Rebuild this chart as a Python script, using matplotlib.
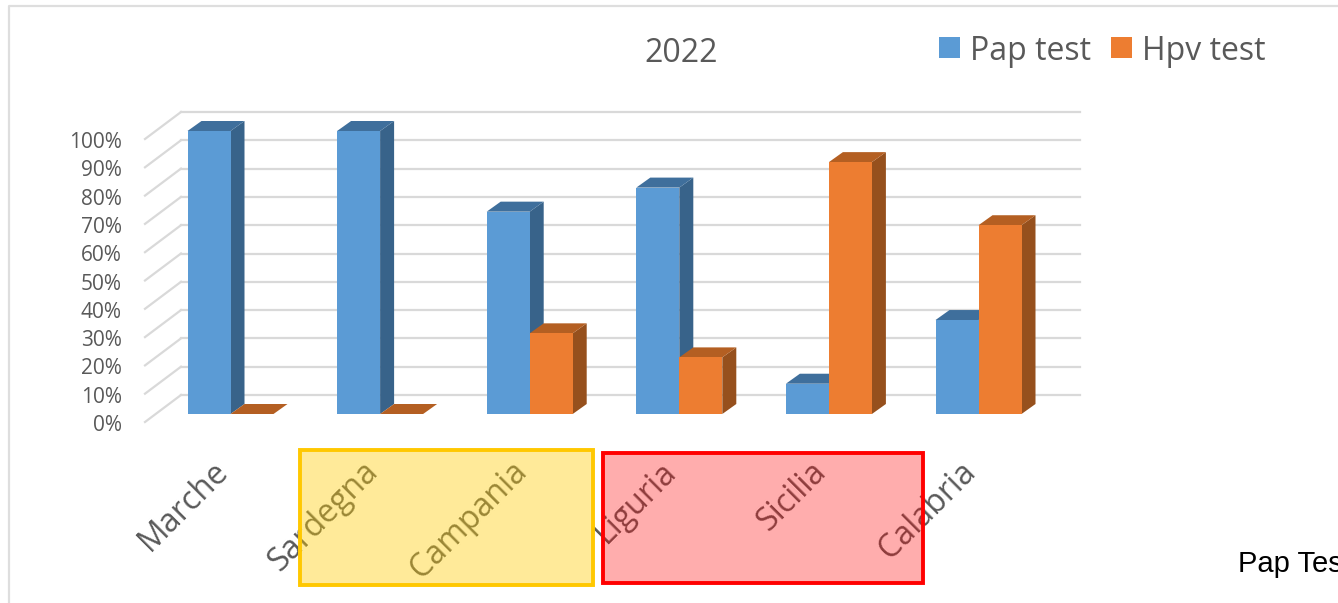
import matplotlib.pyplot as plt
from matplotlib.patches import Polygon, Rectangle

regioni = ['Marche', 'Sardegna', 'Campania', 'Liguria', 'Sicilia', 'Calabria']
pap_test = [100, 100, 71.5, 80, 10.7, 33.2]
hpv_test = [0, 0, 28.5, 20, 89, 66.7]
tick_perc = [0, 10, 20, 30, 40, 50, 60, 70, 80, 90, 100]
serie = ['Pap test', 'Hpv test']
titolo = '2022'

W, H = 1338, 603
GRIGIO = '#595959'
GRIGLIA = '#d9d9d9'

# scala: posizione categoria e percentuale -> pixel del riferimento
X0, PASSO = 230.5, 149.6
Y0, PX_PERC = 414.0, 2.83


def dx(px):
    return px / PASSO


def dy(px):
    return px / PX_PERC


def fx(px):
    return (px - X0) / PASSO


def fy(py):
    return (Y0 - py) / PX_PERC


fig = plt.figure(figsize=(W / 100, H / 100), dpi=100)
ax = fig.add_axes([0, 0, 1, 1])
ax.set_xlim(fx(0), fx(W))
ax.set_ylim(fy(H), fy(0))
ax.axis('off')
plt.rcParams['font.family'] = ['Open Sans', 'DejaVu Sans']

# cornice del grafico
ax.plot([fx(9), fx(9), fx(W)], [fy(H), fy(5.5), fy(5.5)], color='#dedede', lw=1.6, zorder=1)

# griglia: parete di fondo e parete sinistra
off_y = dy(19)
for t in tick_perc:
    ax.plot([fx(181), fx(1080)], [t + off_y, t + off_y], color=GRIGLIA, lw=1.6, zorder=1)
    ax.plot([fx(145), fx(181)], [t - dy(8), t + off_y], color=GRIGLIA, lw=1.6, zorder=1)
    ax.text(fx(122), t - dy(11.5), f'{t}%', ha='right', va='center', fontsize=15, color=GRIGIO, zorder=2)

larg = dx(43)
prof_x = dx(14)
prof_y = dy(10)
colori = [('#5b9bd5', '#3f6f9c', '#38638a'), ('#ed7d31', '#b45f22', '#96501d')]

for i, (pap, hpv) in enumerate(zip(pap_test, hpv_test)):
    for x, val, (col, top, lato) in zip([i - larg, i], [pap, hpv], colori):
        ax.add_patch(Polygon([(x + larg, 0), (x + larg + prof_x, prof_y),
                              (x + larg + prof_x, val + prof_y), (x + larg, val)],
                             facecolor=lato, edgecolor='none', zorder=3 + i))
        ax.add_patch(Polygon([(x, val), (x + prof_x, val + prof_y),
                              (x + larg + prof_x, val + prof_y), (x + larg, val)],
                             facecolor=top, edgecolor='none', zorder=3 + i))
        ax.bar(x, val, width=larg, align='edge', color=col, zorder=3 + i)

# etichette delle categorie
for i, nome in enumerate(regioni):
    ax.text(i - dx(19), fy(455), nome, rotation=45, rotation_mode='anchor',
            ha='right', va='top', fontsize=23, color=GRIGIO, zorder=10)

ax.text(fx(681), fy(53), titolo, ha='center', va='center', fontsize=23, color=GRIGIO, zorder=10)

# legenda
for px, nome, (col, _, _) in zip([939, 1111], serie, colori):
    ax.add_patch(Rectangle((fx(px), fy(58)), dx(21), dy(21), facecolor=col, edgecolor='none', zorder=10))
    ax.text(fx(px + 31), fy(51), nome, ha='left', va='center', fontsize=23, color=GRIGIO, zorder=10)

# riquadri evidenziati sopra le etichette
ax.add_patch(Rectangle((fx(300), fy(585)), dx(293), dy(135), facecolor=(1, 0.8, 0, 0.4),
                       edgecolor='#ffc800', lw=2.8, zorder=20))
ax.add_patch(Rectangle((fx(603), fy(583)), dx(320), dy(130), facecolor=(1, 0, 0, 0.32),
                       edgecolor='#ff0000', lw=2.8, zorder=20))

# testo tagliato dal bordo destro
ax.text(fx(1238), fy(564), 'Pap Test', ha='left', va='center', fontsize=21,
        color='black', family=['Liberation Sans', 'DejaVu Sans'], zorder=10)

plt.savefig('out.png', dpi=100)
